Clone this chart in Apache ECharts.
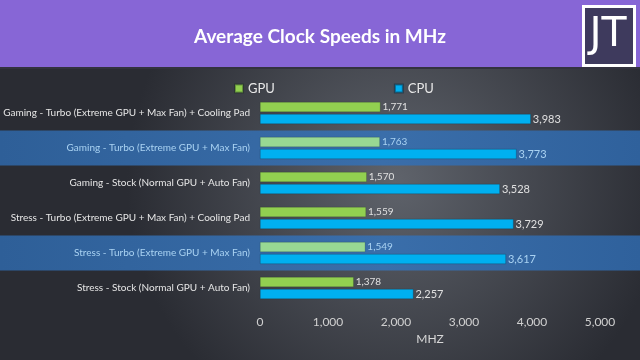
<!DOCTYPE html>
<html>
<head>
<meta charset="utf-8">
<script src="https://cdn.jsdelivr.net/npm/echarts@6/dist/echarts.min.js"></script>
<style>html,body{margin:0;padding:0;background:#2b2d34;}#c{width:640px;height:360px;}</style>
</head>
<body>
<div id="c"></div>
<script>
var categories = [
  'Gaming - Turbo (Extreme GPU + Max Fan) + Cooling Pad',
  'Gaming - Turbo (Extreme GPU + Max Fan)',
  'Gaming - Stock (Normal GPU + Auto Fan)',
  'Stress - Turbo (Extreme GPU + Max Fan) + Cooling Pad',
  'Stress - Turbo (Extreme GPU + Max Fan)',
  'Stress - Stock (Normal GPU + Auto Fan)'
];
var gpuValues = [1771, 1763, 1570, 1559, 1549, 1378];
var cpuValues = [3983, 3773, 3528, 3729, 3617, 2257];
var highlighted = [0, 1, 0, 0, 1, 0];
var xTicks = [0, 1000, 2000, 3000, 4000, 5000];

var FONT = 'Lato, "Open Sans", sans-serif';
var chart = echarts.init(document.getElementById('c'), null, {renderer: 'canvas'});

function gpuItems() {
  return gpuValues.map(function (v, i) {
    return {
      value: v,
      itemStyle: {color: highlighted[i] ? '#98d893' : '#92d050'},
      label: {color: highlighted[i] ? '#a9d2f2' : '#e0e0e0'}
    };
  });
}
function cpuItems() {
  return cpuValues.map(function (v, i) {
    return {
      value: v,
      label: {color: highlighted[i] ? '#a9d2f2' : '#e0e0e0'}
    };
  });
}

var option = {
  backgroundColor: {
    type: 'radial', x: 0.62, y: 0.5, r: 0.75,
    colorStops: [{offset: 0, color: '#5f636b'}, {offset: 1, color: '#2a2c33'}]
  },
  graphic: [
    {type: 'rect', left: 0, top: 0, shape: {width: 640, height: 67}, style: {fill: '#8766d6'}, z: 0},
    {type: 'rect', left: 0, top: 67, shape: {width: 640, height: 2}, style: {fill: '#33323f'}, z: 0},
    {type: 'rect', left: 582, top: 5, shape: {width: 51, height: 59}, style: {fill: '#3e3a5d', stroke: '#ffffff', lineWidth: 3}, z: 10},
    {type: 'text', x: 608, y: 35, style: {text: 'JT', fill: '#ffffff', font: 'normal 41px "DejaVu Sans", sans-serif', align: 'center', verticalAlign: 'middle'}, z: 11}
  ],
  title: {
    text: 'Average Clock Speeds in MHz',
    left: 'center', top: 22,
    textStyle: {color: '#ffffff', fontSize: 19, fontWeight: 'bold', fontFamily: FONT}
  },
  legend: {
    data: ['GPU', 'CPU'],
    left: 229, top: 77,
    itemWidth: 8, itemHeight: 8, itemGap: 119,
    icon: 'rect',
    textStyle: {color: '#e8e8e8', fontSize: 13, fontFamily: FONT}
  },
  grid: [
    {left: 0, right: 0, top: 95.5, bottom: 54.5, containLabel: false, outerBoundsMode: 'none'},
    {left: 260, right: 40, top: 95.5, bottom: 54.5, containLabel: false, outerBoundsMode: 'none'}
  ],
  xAxis: [
    {gridIndex: 0, type: 'value', min: 0, max: 1, show: false},
    {
      gridIndex: 1, type: 'value', min: xTicks[0], max: xTicks[xTicks.length - 1], interval: 1000,
      name: 'MHZ', nameLocation: 'middle', nameGap: 27,
      nameTextStyle: {color: '#d8d8d8', fontSize: 12, fontFamily: FONT},
      axisLine: {show: false}, axisTick: {show: false}, splitLine: {show: false},
      axisLabel: {
        color: '#d0d0d0', fontSize: 12, fontFamily: FONT, margin: 11,
        formatter: function (v) { return v.toLocaleString('en-US'); }
      }
    }
  ],
  yAxis: [
    {gridIndex: 0, type: 'category', data: categories, inverse: true, show: false},
    {
      gridIndex: 1, type: 'category', data: categories, inverse: true, z: 5,
      axisLine: {show: false}, axisTick: {show: false},
      axisLabel: {
        fontSize: 10, fontFamily: FONT, margin: 10,
        color: function (v, i) { return highlighted[i] ? '#a9d2f2' : '#e6e6e6'; }
      }
    }
  ],
  series: [
    {
      name: 'band', type: 'bar', xAxisIndex: 0, yAxisIndex: 0, silent: true,
      barWidth: '100%', z: 0,
      itemStyle: {
        color: {type: 'linear', x: 0, y: 0, x2: 1, y2: 0,
          colorStops: [{offset: 0, color: '#2e5f98'}, {offset: 0.6, color: '#3a6eaa'}, {offset: 1, color: '#2f619c'}]}
      },
      data: highlighted
    },
    {
      name: 'GPU', type: 'bar', xAxisIndex: 1, yAxisIndex: 1, z: 3,
      barWidth: 10, barGap: '20%',
      itemStyle: {color: '#92d050', borderColor: 'rgba(20,40,20,0.35)', borderWidth: 0.5},
      label: {show: true, position: 'right', distance: 2, fontSize: 10, fontFamily: FONT,
        formatter: function (p) { return p.value.toLocaleString('en-US'); }},
      data: gpuItems()
    },
    {
      name: 'CPU', type: 'bar', xAxisIndex: 1, yAxisIndex: 1, z: 3,
      barWidth: 10, barGap: '20%',
      itemStyle: {color: '#00b0f0', borderColor: 'rgba(10,40,60,0.5)', borderWidth: 0.5},
      label: {show: true, position: 'right', distance: 2, fontSize: 11, fontFamily: FONT,
        formatter: function (p) { return p.value.toLocaleString('en-US'); }},
      data: cpuItems()
    }
  ]
};
chart.setOption(option);
</script>
</body>
</html>
